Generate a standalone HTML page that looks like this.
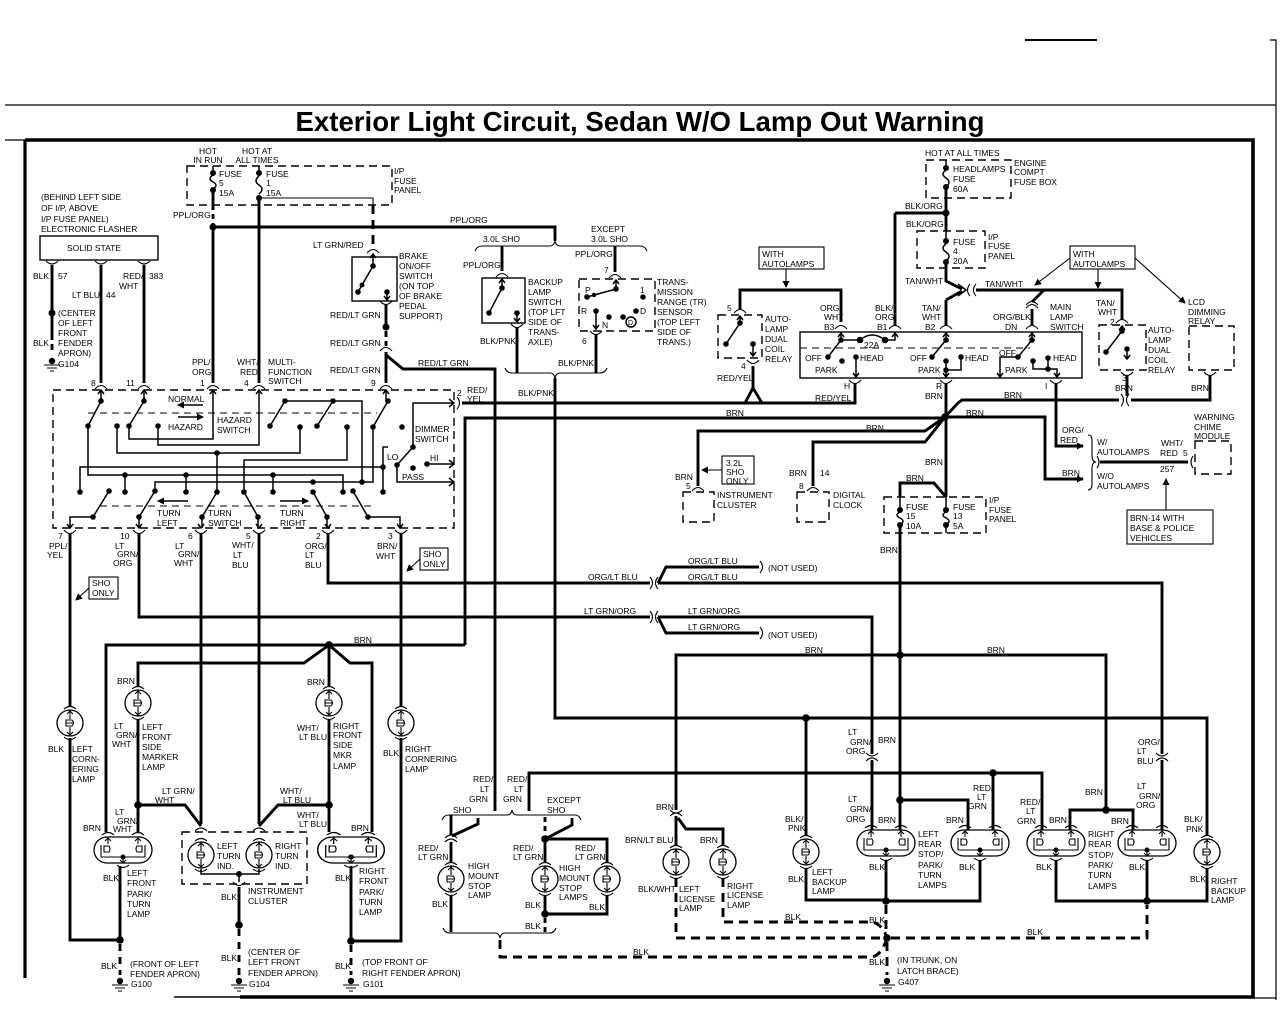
<!DOCTYPE html>
<html><head><meta charset="utf-8"><style>
html,body{margin:0;padding:0;background:#fff;}
svg{display:block;}
text{font-family:"Liberation Sans",Arial,sans-serif;font-size:8.5px;fill:#000;}
.w{stroke:#000;stroke-width:2.9;fill:none;}
.t{stroke:#000;stroke-width:1.5;fill:none;}
.h{stroke:#000;stroke-width:1.1;fill:none;}
.d{stroke:#000;stroke-width:1.4;fill:none;stroke-dasharray:8 5;}
.dw{stroke:#000;stroke-width:2.9;fill:none;stroke-dasharray:9 6;}
.b{stroke:#000;stroke-width:1.4;fill:none;}
</style></head><body>
<svg width="1280" height="1024" viewBox="0 0 1280 1024" xmlns="http://www.w3.org/2000/svg">
<defs>
<marker id="ah" markerWidth="7" markerHeight="7" refX="6" refY="3.5" orient="auto" markerUnits="userSpaceOnUse"><path d="M0,0 L7,3.5 L0,7 z" fill="#000"/></marker>
<g id="lamp">
<circle r="13" fill="#fff" stroke="#000" stroke-width="1.3"/>
<path d="M-6,-14 Q0,-19 6,-14 M-6,14 Q0,19 6,14" class="h"/>
<path d="M0,-13 V-4 M0,4 V13 M-3,-9 L0,-12 L3,-9 M-3,9 L0,12 L3,9" class="h"/>
<path d="M-4,-3 H2 Q5,0 2,3 H-4 Z M-4,0 H3" class="h"/>
</g>
<g id="ovs">
<rect x="-29" y="-13" width="58" height="26" rx="13" fill="#fff" stroke="#000" stroke-width="1.3"/>
<path d="M-21,-15 Q-15,-20 -9,-15 M9,-15 Q15,-20 21,-15 M-15,-13 V-6 M15,-13 V-6 M-18,-9 L-15,-12 L-12,-9 M12,-9 L15,-12 L18,-9" class="h"/>
<path d="M-22,-5 V7 H22 V-5 M0,7 V13 M-3,10 L0,13 L3,10 M-6,15 Q0,20 6,15" class="h"/>
<path d="M-19,-4 H-14 Q-12,-1 -14,2 H-19 Z M19,-4 H14 Q12,-1 14,2 H19 Z" class="h"/>
<circle cx="0" cy="7" r="2.5" fill="#000"/>
</g>
<g id="gnd"><circle cx="0" cy="-3" r="3.2" fill="#000"/><path d="M-8,1 H8 M-5,4 H5 M-2,7 H2" class="h"/></g>
</defs>

<!-- frame -->
<path d="M1025,40 H1097" stroke="#000" stroke-width="2"/>
<path d="M1270,40 H1276 V1000" stroke="#000" stroke-width="1.2" fill="none"/>
<path d="M5,105 H1276" stroke="#000" stroke-width="1.2"/>
<text x="640" y="131" text-anchor="middle" textLength="689" lengthAdjust="spacingAndGlyphs" style="font-size:28px;font-weight:bold">Exterior Light Circuit, Sedan W/O Lamp Out Warning</text>
<path d="M5,140 H25" stroke="#000" stroke-width="1.2"/>
<path d="M25,140 H1253 V997 H240" stroke="#000" stroke-width="3.6" fill="none"/>
<path d="M25,140 V978" stroke="#000" stroke-width="3.2"/>
<path d="M174,997 H240" stroke="#000" stroke-width="1.5"/>
<path d="M1253,998 H1276" stroke="#000" stroke-width="1.2"/>

<!-- ===== TOP LEFT FUSES ===== -->
<rect x="187" y="166" width="205" height="39" class="d"/>
<path d="M213,166 V173 M213,175 q-6,4 0,7 q6,3 0,7" class="t"/>
<path d="M259,166 V173 M259,176 q-6,5 0,9 q6,4 0,9" class="t"/>
<path d="M213,190 V205" class="w"/>
<path d="M213,205 V225" class="dw" style="stroke-dasharray:5 4"/>
<path d="M213,227 V383 M213,227 H555 V241" class="w"/>
<path d="M259,198 V383" class="w"/>
<path d="M259,198 H373 V205" class="h"/>
<path d="M373,205 V248" class="dw"/>
<g fill="#000"><circle cx="213" cy="173" r="3"/><circle cx="213" cy="190" r="3"/><circle cx="259" cy="173" r="3"/><circle cx="259" cy="198" r="3"/><circle cx="213" cy="227" r="3.5"/></g>
<text x="208" y="154" text-anchor="middle">HOT</text><text x="208" y="163" text-anchor="middle">IN RUN</text>
<text x="257" y="154" text-anchor="middle">HOT AT</text><text x="257" y="163" text-anchor="middle">ALL TIMES</text>
<text x="219" y="177">FUSE</text><text x="219" y="186">5</text><text x="219" y="196">15A</text>
<text x="266" y="177">FUSE</text><text x="266" y="186">1</text><text x="266" y="196">15A</text>
<text x="394" y="174">I/P</text><text x="394" y="184">FUSE</text><text x="394" y="193">PANEL</text>
<text x="173" y="218">PPL/ORG</text>
<text x="450" y="223">PPL/ORG</text>

<!-- flasher -->
<text x="41" y="200">(BEHIND LEFT SIDE</text><text x="41" y="211">OF I/P, ABOVE</text><text x="41" y="222">I/P FUSE PANEL)</text><text x="41" y="232">ELECTRONIC FLASHER</text>
<rect x="40" y="236" width="118" height="24" class="b"/>
<text x="94" y="251" text-anchor="middle">SOLID STATE</text>
<path d="M46,261 Q52,267 58,261 M95,261 Q101,267 107,261 M138,261 Q144,267 150,261" class="h"/>
<path d="M52,265 V340 M101,265 V383 M144,265 V383" class="w"/>
<path d="M52,344 V350" class="w"/>
<circle cx="52" cy="313" r="3.5"/>
<use href="#gnd" x="52" y="364"/>
<text x="33" y="279">BLK</text><text x="58" y="279">57</text>
<text x="123" y="279">RED/</text><text x="119" y="289">WHT</text><text x="149" y="279">383</text>
<text x="72" y="298">LT BLU</text><text x="106" y="298">44</text>
<text x="58" y="316">(CENTER</text><text x="58" y="326">OF LEFT</text><text x="58" y="336">FRONT</text>
<text x="33" y="346">BLK</text><text x="58" y="346">FENDER</text><text x="58" y="356">APRON)</text><text x="58" y="367">G104</text>

<!-- ===== MULTI-FUNCTION SWITCH ===== -->
<text x="192" y="365">PPL/</text><text x="192" y="375">ORG</text><text x="200" y="386">1</text>
<text x="237" y="365">WHT/</text><text x="240" y="375">RED</text><text x="244" y="386">4</text>
<text x="268" y="365">MULTI-</text><text x="268" y="375">FUNCTION</text><text x="268" y="384">SWITCH</text>
<text x="91" y="386">8</text><text x="126" y="386">11</text><text x="371" y="386">9</text>
<text x="330" y="373">RED/LT GRN</text>
<rect x="53" y="390" width="401" height="138" class="d"/>
<g class="h">
<path d="M95,389 Q101,382 107,389 M138,389 Q144,382 150,389 M207,389 Q213,382 219,389 M253,389 Q259,382 265,389 M380,389 Q386,382 392,389"/>
<path d="M64,530 Q70,537 76,530 M133,530 Q139,537 145,530 M195,530 Q201,537 207,530 M253,530 Q259,537 265,530 M322,530 Q328,537 334,530 M395,530 Q401,537 407,530"/>
<path d="M457,397 Q462,403 457,409"/>
</g>
<g class="t">
<path d="M101,390 V401 M144,390 V401 M386,390 V401"/>
<path d="M98,394 L101,390 L104,394 M141,394 L144,390 L147,394 M210,394 L213,390 L216,394 M256,394 L259,390 L262,394 M383,394 L386,390 L389,394"/>
<path d="M101,401 L88,426 M144,401 L129,426 M285,401 L270,426 M333,401 L317,426 M388,401 L373,427"/>
<path d="M129,426 V439 H213 V390 M158,426 V445 H259 V390"/>
<path d="M117,426 V453 H300 V427 M217,453 V492 M347,427 V460 H244 V492"/>
<path d="M285,401 H362 V482 M373,427 V482 H155 V491"/>
<path d="M88,426 V475 H343 V492 M125,475 V492 M186,475 V492 M273,475 V492"/>
<path d="M80,492 V467 H383 V492 M383,467 V447 H388"/>
<path d="M413,447 V403 H454 M413,447 L397,465 V482 H454 M427,464 H454"/>
<path d="M109,491 L93,517 H70 V528 M155,491 L139,517 V528 M217,492 L202,517 V528 M244,492 L258,517 V528 M313,492 L327,517 V528 M353,491 L368,517 H400 V528"/>
<path d="M67,524 L70,528 L73,524 M136,524 L139,528 L142,524 M198,524 L201,528 L204,524 M256,524 L259,528 L262,524 M325,524 L328,528 L331,524 M397,524 L400,528 L403,524"/>
<path d="M449,399 L454,403 L449,407 M449,460 L454,464 L449,468 M449,478 L454,482 L449,486"/>
</g>
<path d="M88,413 H377 M100,506 H373" class="h" style="stroke-dasharray:7 5"/>
<g fill="#000">
<circle cx="101" cy="401" r="2.8"/><circle cx="144" cy="401" r="2.8"/><circle cx="285" cy="401" r="2.8"/><circle cx="333" cy="401" r="2.8"/><circle cx="388" cy="401" r="2.8"/>
<circle cx="88" cy="426" r="2.8"/><circle cx="117" cy="426" r="2.8"/><circle cx="129" cy="426" r="2.8"/><circle cx="158" cy="426" r="2.8"/><circle cx="270" cy="426" r="2.8"/><circle cx="300" cy="427" r="2.8"/><circle cx="317" cy="426" r="2.8"/><circle cx="347" cy="427" r="2.8"/><circle cx="373" cy="427" r="2.8"/><circle cx="402" cy="427" r="2.8"/>
<circle cx="217" cy="453" r="2.8"/><circle cx="125" cy="475" r="2.8"/><circle cx="186" cy="475" r="2.8"/><circle cx="273" cy="475" r="2.8"/><circle cx="383" cy="467" r="2.8"/><circle cx="362" cy="482" r="2.8"/><circle cx="313" cy="482" r="2.8"/>
<circle cx="80" cy="492" r="2.8"/><circle cx="125" cy="492" r="2.8"/><circle cx="186" cy="492" r="2.8"/><circle cx="273" cy="492" r="2.8"/><circle cx="343" cy="492" r="2.8"/><circle cx="383" cy="492" r="2.8"/>
<circle cx="109" cy="491" r="2.8"/><circle cx="155" cy="491" r="2.8"/><circle cx="217" cy="492" r="2.8"/><circle cx="244" cy="492" r="2.8"/><circle cx="313" cy="492" r="2.8"/><circle cx="353" cy="491" r="2.8"/>
<circle cx="93" cy="517" r="2.8"/><circle cx="139" cy="517" r="2.8"/><circle cx="202" cy="517" r="2.8"/><circle cx="258" cy="517" r="2.8"/><circle cx="327" cy="517" r="2.8"/><circle cx="368" cy="517" r="2.8"/>
<circle cx="413" cy="447" r="2.8"/><circle cx="397" cy="465" r="2.8"/><circle cx="427" cy="464" r="2.8"/><circle cx="413" cy="468" r="2.8"/>
</g>
<path d="M203,405 H178" class="t" marker-end="url(#ah)"/>
<path d="M178,417 H203" class="t" marker-end="url(#ah)"/>
<path d="M188,501 H158" class="t" marker-end="url(#ah)"/>
<path d="M280,501 H308" class="t" marker-end="url(#ah)"/>
<text x="168" y="402">NORMAL</text><text x="168" y="430">HAZARD</text>
<text x="217" y="423">HAZARD</text><text x="217" y="433">SWITCH</text>
<text x="415" y="432">DIMMER</text><text x="415" y="442">SWITCH</text>
<text x="387" y="460">LO</text><text x="430" y="461">HI</text><text x="402" y="480">PASS</text>
<text x="157" y="516">TURN</text><text x="157" y="526">LEFT</text>
<text x="208" y="516">TURN</text><text x="208" y="526">SWITCH</text>
<text x="280" y="516">TURN</text><text x="280" y="526">RIGHT</text>
<text x="457" y="396">2</text><text x="467" y="393">RED/</text><text x="467" y="402">YEL</text>
<text x="58" y="539">7</text><text x="49" y="549">PPL/</text><text x="47" y="558">YEL</text>
<text x="120" y="539">10</text><text x="115" y="549">LT</text><text x="117" y="557">GRN/</text><text x="113" y="566">ORG</text>
<text x="188" y="539">6</text><text x="175" y="549">LT</text><text x="178" y="557">GRN/</text><text x="174" y="566">WHT</text>
<text x="246" y="539">5</text><text x="232" y="548">WHT/</text><text x="233" y="558">LT</text><text x="232" y="568">BLU</text>
<text x="316" y="539">2</text><text x="305" y="549">ORG/</text><text x="305" y="558">LT</text><text x="305" y="568">BLU</text>
<text x="388" y="539">3</text><text x="377" y="549">BRN/</text><text x="376" y="559">WHT</text>
<rect x="420" y="548" width="28" height="22" class="h"/><text x="423" y="557">SHO</text><text x="423" y="567">ONLY</text>
<path d="M420,559 L407,571" class="h" marker-end="url(#ah)"/>
<rect x="89" y="577" width="29" height="22" class="h"/><text x="92" y="586">SHO</text><text x="92" y="596">ONLY</text>
<path d="M89,588 L76,600" class="h" marker-end="url(#ah)"/>

<!-- brake switch -->
<text x="313" y="248">LT GRN/RED</text>
<path d="M367,253 Q373,246 379,253" class="h"/>
<rect x="352" y="257" width="45" height="44" class="b"/>
<path d="M373,254 V266 L358,292 M370,258 L373,254 L376,258 M387,292 V300 M384,296 L387,300 L390,296" class="t"/>
<g fill="#000"><circle cx="373" cy="266" r="2.8"/><circle cx="358" cy="292" r="2.8"/><circle cx="362" cy="285" r="2.5"/><circle cx="387" cy="292" r="2.8"/><circle cx="386" cy="327" r="3.5"/></g>
<path d="M380,301 Q386,308 392,301 M380,351 Q386,344 392,351" class="h"/>
<path d="M386,305 V327" class="w"/>
<path d="M386,331 V346" class="dw" style="stroke-dasharray:6 4"/>
<path d="M386,352 V383 M386,355 L403,369 H495 V811" class="w"/>
<text x="399" y="259">BRAKE</text><text x="399" y="269">ON/OFF</text><text x="399" y="279">SWITCH</text><text x="399" y="289">(ON TOP</text><text x="399" y="299">OF BRAKE</text><text x="399" y="309">PEDAL</text><text x="399" y="319">SUPPORT)</text>
<text x="330" y="318">RED/LT GRN</text><text x="330" y="346">RED/LT GRN</text>
<text x="418" y="366">RED/LT GRN</text>

<!-- RED/YEL and BRN main horizontals -->
<path d="M462,403 H855 V384" class="w"/>
<path d="M753,366 V388 M745,403 L753,388 L762,403" class="w"/>
<path d="M465,645 V418 H945" class="w"/>

<!-- backup lamp switch / TR -->
<path d="M475,251 Q477,246 482,246 H550 Q554,246 555,241 Q556,246 560,246 H640 Q645,246 647,251" class="h"/>
<path d="M502,246 V271 M615,246 V272" class="w"/>
<path d="M496,277 Q502,270 508,277 M609,278 Q615,271 621,278" class="h"/>
<rect x="482" y="278" width="43" height="45" class="b"/>
<path d="M502,279 V288 L489,313 M499,283 L502,279 L505,283 M517,313 V322 M514,318 L517,322 L520,318" class="t"/>
<g fill="#000"><circle cx="502" cy="288" r="2.8"/><circle cx="489" cy="313" r="2.8"/><circle cx="517" cy="313" r="2.8"/></g>
<path d="M511,324 Q517,331 523,324" class="h"/>
<path d="M517,328 V373" class="w"/>
<rect x="579" y="279" width="76" height="52" class="d"/>
<path d="M616,280 V289 L587,297 M613,284 L616,280 L619,284 M596,311 V329 M593,325 L596,329 L599,325" class="t"/>
<g fill="#000"><circle cx="616" cy="289" r="2.8"/><circle cx="587" cy="297" r="2.8"/><circle cx="594" cy="295" r="2.2"/><circle cx="643" cy="297" r="2.8"/><circle cx="596" cy="311" r="2.8"/><circle cx="609" cy="317" r="2.8"/><circle cx="623" cy="317" r="2.8"/><circle cx="636" cy="311" r="2.8"/></g>
<circle cx="631" cy="322" r="5" class="t"/><text x="628" y="325" style="font-size:7px">D</text>
<text x="585" y="293">P</text><text x="640" y="293">1</text><text x="581" y="314">R</text><text x="602" y="328">N</text><text x="640" y="314">D</text>
<path d="M590,331 Q596,338 602,331" class="h"/>
<path d="M596,334 V373" class="w"/>
<path d="M505,368 Q507,373 512,373 H550 Q554,373 555,378 Q556,373 560,373 H600 Q605,373 607,368" class="h"/>
<path d="M555,378 V718 H1207 V836" class="w"/>
<text x="483" y="242">3.0L SHO</text><text x="591" y="232">EXCEPT</text><text x="591" y="242">3.0L SHO</text>
<text x="463" y="268">PPL/ORG</text><text x="575" y="257">PPL/ORG</text><text x="604" y="273">7</text>
<text x="528" y="285">BACKUP</text><text x="528" y="295">LAMP</text><text x="528" y="305">SWITCH</text><text x="528" y="315">(TOP LFT</text><text x="528" y="325">SIDE OF</text><text x="528" y="335">TRANS-</text><text x="528" y="345">AXLE)</text>
<text x="480" y="344">BLK/PNK</text><text x="582" y="344">6</text><text x="558" y="366">BLK/PNK</text><text x="518" y="396">BLK/PNK</text>
<text x="657" y="285">TRANS-</text><text x="657" y="295">MISSION</text><text x="657" y="305">RANGE (TR)</text><text x="657" y="315">SENSOR</text><text x="657" y="325">(TOP LEFT</text><text x="657" y="335">SIDE OF</text><text x="657" y="345">TRANS.)</text>

<!-- left autolamp relay -->
<rect x="759" y="247" width="65" height="22" class="h"/>
<text x="762" y="257">WITH</text><text x="762" y="267">AUTOLAMPS</text>
<path d="M786,269 V287" class="h" marker-end="url(#ah)"/>
<path d="M740,309 V290 H841 V322" class="w"/>
<path d="M734,313 Q740,306 746,313" class="h"/>
<rect x="718" y="315" width="44" height="43" class="d"/>
<path d="M740,316 V323 L726,344 M737,320 L740,316 L743,320 M753,344 V356 M750,352 L753,356 L756,352" class="t"/>
<g fill="#000"><circle cx="740" cy="323" r="2.8"/><circle cx="726" cy="344" r="2.8"/><circle cx="753" cy="344" r="2.8"/></g>
<path d="M747,360 Q753,367 759,360" class="h"/>
<text x="727" y="311">5</text>
<text x="765" y="322">AUTO-</text><text x="765" y="332">LAMP</text><text x="765" y="342">DUAL</text><text x="765" y="352">COIL</text><text x="765" y="362">RELAY</text>
<text x="741" y="369">4</text><text x="717" y="381">RED/YEL</text><text x="815" y="401">RED/YEL</text>

<!-- main lamp switch -->
<rect x="800" y="332" width="282" height="46" class="b"/>
<g class="h"><path d="M835,329 Q841,322 847,329 M889,329 Q895,322 901,329 M940,329 Q946,322 952,329 M1026,329 Q1032,322 1038,329 M1026,305 Q1032,298 1038,305 M1026,308 Q1032,301 1038,308"/>
<path d="M849,380 Q855,387 861,380 M940,380 Q946,387 952,380 M1050,380 Q1056,387 1062,380"/></g>
<path d="M895,213 V326 M946,300 V326 M1032,309 V326" class="w"/>
<g class="t">
<path d="M841,333 V340 H860 M860,340 Q872,330 885,340 H895 V333 M838,337 L841,333 L844,337 M892,337 L895,333 L898,337"/>
<path d="M841,340 L828,357 M856,357 V377 M853,373 L856,377 L859,373"/>
<path d="M946,333 V340 L932,357 M943,337 L946,333 L949,337 M961,357 V370 H946 M946,361 V377 M943,373 L946,377 L949,373"/>
<path d="M1032,333 V340 L1018,357 H1000 V377 M1029,337 L1032,333 L1035,337 M997,373 L1000,377 L1003,373"/>
<path d="M1033,361 V369 H1057 V377 M1048,358 V369 M1054,373 L1057,377 L1060,373"/>
</g>
<path d="M800,348 H1030" class="h" style="stroke-dasharray:7 5"/>
<g fill="#000"><circle cx="841" cy="340" r="2.8"/><circle cx="860" cy="340" r="3.3"/><circle cx="885" cy="340" r="3.3"/><circle cx="828" cy="357" r="2.8"/><circle cx="842" cy="361" r="2.8"/><circle cx="856" cy="357" r="2.8"/>
<circle cx="946" cy="340" r="2.8"/><circle cx="932" cy="357" r="2.8"/><circle cx="946" cy="361" r="2.8"/><circle cx="961" cy="357" r="2.8"/><circle cx="946" cy="370" r="2.8"/>
<circle cx="1032" cy="340" r="2.8"/><circle cx="1018" cy="357" r="2.8"/><circle cx="1033" cy="361" r="2.8"/><circle cx="1048" cy="358" r="2.8"/><circle cx="1048" cy="369" r="2.8"/></g>
<text x="864" y="348">22A</text>
<text x="805" y="361">OFF</text><text x="815" y="373">PARK</text><text x="860" y="361">HEAD</text>
<text x="910" y="361">OFF</text><text x="918" y="373">PARK</text><text x="965" y="361">HEAD</text>
<text x="999" y="356">OFF</text><text x="1005" y="373">PARK</text><text x="1053" y="361">HEAD</text>
<text x="820" y="311">ORG/</text><text x="824" y="320">WHT</text><text x="824" y="330">B3</text>
<text x="875" y="311">BLK/</text><text x="875" y="320">ORG</text><text x="877" y="330">B1</text>
<text x="922" y="311">TAN/</text><text x="922" y="320">WHT</text><text x="925" y="330">B2</text>
<text x="993" y="320">ORG/BLK</text><text x="1005" y="330">DN</text>
<text x="1050" y="310">MAIN</text><text x="1050" y="320">LAMP</text><text x="1050" y="330">SWITCH</text>
<text x="844" y="389">H</text><text x="936" y="389">R</text><text x="1045" y="389">I</text><text x="925" y="399">BRN</text>

<!-- engine compt fuse -->
<text x="925" y="156">HOT AT ALL TIMES</text>
<rect x="926" y="160" width="85" height="38" class="d"/>
<path d="M946,160 V168 M946,170 q-6,4 0,8 q6,4 0,9" class="t"/>
<path d="M946,187 V213 H895 M946,213 V231" class="w"/>
<rect x="917" y="231" width="68" height="37" class="d"/>
<path d="M946,231 V241 M946,244 q-6,4 0,8 q6,4 0,9" class="t"/>
<path d="M946,262 V281 L962,289 M962,291 L946,300" class="w"/>
<path d="M958,284 L966,290 L958,296" class="t"/>
<path d="M970,284 Q965,290 970,296 M976,284 Q971,290 976,296" class="h"/>
<path d="M976,290 H1122 V320 M1032,302 L1044,290" class="w"/>
<g fill="#000"><circle cx="946" cy="168" r="3"/><circle cx="946" cy="187" r="3"/><circle cx="946" cy="213" r="3.5"/><circle cx="946" cy="241" r="3"/><circle cx="946" cy="262" r="3"/></g>
<text x="953" y="172">HEADLAMPS</text><text x="953" y="182">FUSE</text><text x="953" y="192">60A</text>
<text x="1014" y="166">ENGINE</text><text x="1014" y="175">COMPT</text><text x="1014" y="185">FUSE BOX</text>
<text x="905" y="209">BLK/ORG</text><text x="906" y="227">BLK/ORG</text>
<text x="953" y="245">FUSE</text><text x="953" y="254">4</text><text x="953" y="264">20A</text>
<text x="988" y="240">I/P</text><text x="988" y="249">FUSE</text><text x="988" y="259">PANEL</text>
<text x="905" y="284">TAN/WHT</text><text x="985" y="287">TAN/WHT</text>

<!-- right autolamps -->
<rect x="1070" y="246" width="65" height="23" class="h"/>
<text x="1073" y="257">WITH</text><text x="1073" y="267">AUTOLAMPS</text>
<path d="M1070,258 L1035,285" class="h" marker-end="url(#ah)"/>
<path d="M1098,269 V288" class="h" marker-end="url(#ah)"/>
<path d="M1135,258 L1185,303" class="h" marker-end="url(#ah)"/>
<path d="M1116,323 Q1122,316 1128,323" class="h"/>
<rect x="1099" y="325" width="47" height="45" class="d"/>
<path d="M1122,326 V331 L1106,352 M1119,330 L1122,326 L1125,330 M1127,349 V359 M1124,355 L1127,359 L1130,355" class="t"/>
<g fill="#000"><circle cx="1122" cy="331" r="2.8"/><circle cx="1106" cy="352" r="2.8"/><circle cx="1127" cy="349" r="2.8"/></g>
<path d="M1121,372 Q1127,379 1133,372" class="h"/>
<rect x="1189" y="326" width="45" height="44" class="d"/>
<path d="M1204,372 Q1210,379 1216,372" class="h"/>
<path d="M1127,376 V396 M1210,376 V400 H1131" class="w"/>
<path d="M945,417 L958,403 L962,400 H1119" class="w"/>
<path d="M1121,394 Q1126,400 1121,406 M1129,394 Q1124,400 1129,406" class="h"/>
<text x="1096" y="306">TAN/</text><text x="1098" y="315">WHT</text><text x="1110" y="325">2</text>
<text x="1188" y="305">LCD</text><text x="1188" y="315">DIMMING</text><text x="1188" y="324">RELAY</text>
<text x="1148" y="333">AUTO-</text><text x="1148" y="343">LAMP</text><text x="1148" y="353">DUAL</text><text x="1148" y="363">COIL</text><text x="1148" y="373">RELAY</text>
<text x="1122" y="381">3</text><text x="1115" y="391">BRN</text><text x="1191" y="391">BRN</text><text x="1004" y="398">BRN</text>

<!-- BRN hub -->
<path d="M946,384 V497" class="w"/>
<circle cx="945" cy="417" r="3.8"/>
<path d="M945,417 L925,431 H698 V486 M945,417 L925,442 H813 V486" class="w"/>
<path d="M945,417 H1045 V479 H1083" class="w" marker-end="url(#ah)"/>
<path d="M1056,384 V446 H1083" class="w" marker-end="url(#ah)"/>
<path d="M1088,435 Q1092,435 1092,440 V455 Q1092,462 1096,462 Q1092,462 1092,469 V484 Q1092,490 1088,490" class="h"/>
<path d="M1097,456 Q1101,462 1097,468" class="h"/>
<path d="M1100,462 H1188" class="w"/>
<path d="M1193,456 Q1189,462 1193,468" class="h"/>
<rect x="1195" y="441" width="36" height="33" class="d"/>
<rect x="1127" y="510" width="86" height="34" class="h"/>
<path d="M1166,510 V479" class="h" marker-end="url(#ah)"/>
<text x="726" y="416">BRN</text><text x="866" y="431">BRN</text><text x="966" y="416">BRN</text>
<text x="1062" y="433">ORG/</text><text x="1060" y="443">RED</text>
<text x="1097" y="445">W/</text><text x="1097" y="455">AUTOLAMPS</text>
<text x="1062" y="476">BRN</text><text x="1097" y="479">W/O</text><text x="1097" y="489">AUTOLAMPS</text>
<text x="1161" y="446">WHT/</text><text x="1160" y="456">RED</text><text x="1183" y="456">5</text><text x="1160" y="472">257</text>
<text x="1194" y="420">WARNING</text><text x="1194" y="430">CHIME</text><text x="1194" y="439">MODULE</text>
<text x="1130" y="521">BRN-14 WITH</text><text x="1130" y="531">BASE &amp; POLICE</text><text x="1130" y="541">VEHICLES</text>

<!-- instrument cluster / clock -->
<path d="M692,491 Q698,484 704,491 M807,491 Q813,484 819,491" class="h"/>
<rect x="683" y="492" width="31" height="30" class="d"/>
<rect x="797" y="492" width="32" height="30" class="d"/>
<rect x="722" y="456" width="32" height="28" class="h"/>
<path d="M722,470 H702" class="h" marker-end="url(#ah)"/>
<text x="675" y="480">BRN</text><text x="686" y="489">5</text><text x="717" y="498">INSTRUMENT</text><text x="717" y="508">CLUSTER</text>
<text x="726" y="466">3.2L</text><text x="726" y="475">SHO</text><text x="726" y="484">ONLY</text>
<text x="789" y="476">BRN</text><text x="820" y="476">14</text><text x="799" y="489">8</text><text x="833" y="498">DIGITAL</text><text x="833" y="508">CLOCK</text>

<!-- fuse 15/13 -->
<path d="M900,497 V483 H934 L946,497" class="w"/>
<rect x="884" y="497" width="102" height="36" class="d"/>
<path d="M900,497 V510 M900,512 q-6,3 0,6 q6,3 0,7 M946,497 V510 M946,512 q-6,3 0,6 q6,3 0,7" class="t"/>
<g fill="#000"><circle cx="900" cy="510" r="3"/><circle cx="900" cy="525" r="3"/><circle cx="946" cy="510" r="3"/><circle cx="946" cy="525" r="3"/></g>
<path d="M946,525 V533" class="t"/>
<path d="M900,525 V800" class="w"/>
<text x="925" y="465">BRN</text><text x="906" y="481">BRN</text>
<text x="906" y="510">FUSE</text><text x="906" y="519">15</text><text x="906" y="529">10A</text>
<text x="953" y="510">FUSE</text><text x="953" y="519">13</text><text x="953" y="529">5A</text>
<text x="989" y="503">I/P</text><text x="989" y="513">FUSE</text><text x="989" y="522">PANEL</text>
<text x="880" y="553">BRN</text>

<!-- ORG/LT BLU and LT GRN/ORG -->
<path d="M328,533 V583 H650 M139,533 V617 H650" class="w"/>
<path d="M650,577 Q655,583 650,589 M650,611 Q655,617 650,623" class="h"/>
<path d="M658,577 Q653,583 658,589 M658,611 Q653,617 658,623" class="h"/>
<path d="M658,583 H1162 V754 M658,583 L666,567 H759 M658,617 H872 V754 M658,617 L666,633 H759" class="w"/>
<path d="M760,561 Q765,567 760,573 M760,627 Q765,633 760,639" class="h"/>
<text x="588" y="580">ORG/LT BLU</text><text x="688" y="564">ORG/LT BLU</text><text x="768" y="571">(NOT USED)</text><text x="688" y="580">ORG/LT BLU</text>
<text x="584" y="614">LT GRN/ORG</text><text x="688" y="614">LT GRN/ORG</text><text x="688" y="630">LT GRN/ORG</text><text x="768" y="638">(NOT USED)</text>

<!-- BRN y655 distribution -->
<path d="M676,810 V655 H1106 V810" class="w"/>
<circle cx="900" cy="655" r="3.8"/>
<text x="805" y="653">BRN</text><text x="987" y="653">BRN</text>

<!-- ===== FRONT LAMPS ===== -->
<path d="M70,533 V706 M70,738 V940 H120 M401,533 V706 M401,738 V941 H351 M201,533 V824 M259,533 V824" class="w"/>
<use href="#lamp" x="70" y="723"/><use href="#lamp" x="401" y="723"/>
<circle cx="329" cy="645" r="3.8"/>
<path d="M465,645 H106 V832 M329,645 L304,663 H138 V686 M329,645 V686 M329,645 L350,663 H372 V832" class="w"/>
<use href="#lamp" x="138" y="703"/><use href="#lamp" x="329" y="703"/>
<path d="M138,720 V832 M138,805 H185 L201,826 M329,720 V832 M329,805 H278 L259,826" class="w"/>
<circle cx="138" cy="805" r="3.8"/><circle cx="329" cy="805" r="3.8"/>
<use href="#ovs" x="123" y="850"/>
<g transform="translate(351,850) scale(1.15,1)"><use href="#ovs"/></g>
<rect x="182" y="832" width="125" height="52" class="d"/>
<use href="#lamp" x="201" y="855"/><use href="#lamp" x="259" y="855"/>
<path d="M195,831 Q201,825 207,831 M253,831 Q259,825 265,831" class="h"/>
<path d="M201,869 V874 H259 V869 M239,874 V882" class="t"/>
<circle cx="239" cy="874" r="3"/>
<path d="M233,882 Q239,889 245,882" class="h"/>
<path d="M239,887 V925 M120,866 V940 M351,866 V941" class="w"/>
<path d="M120,944 V975 M239,929 V975 M351,945 V975" class="dw" style="stroke-dasharray:7 6"/>
<g fill="#000"><circle cx="120" cy="940" r="3.8"/><circle cx="239" cy="925" r="3.8"/><circle cx="351" cy="941" r="3.8"/></g>
<use href="#gnd" x="120" y="984"/><use href="#gnd" x="239" y="984"/><use href="#gnd" x="351" y="984"/>
<text x="354" y="643">BRN</text>
<text x="48" y="752">BLK</text><text x="72" y="752">LEFT</text><text x="72" y="762">CORN-</text><text x="72" y="772">ERING</text><text x="72" y="782">LAMP</text>
<text x="117" y="684">BRN</text><text x="114" y="729">LT</text><text x="116" y="738">GRN/</text><text x="112" y="747">WHT</text>
<text x="142" y="730">LEFT</text><text x="142" y="740">FRONT</text><text x="142" y="750">SIDE</text><text x="142" y="760">MARKER</text><text x="142" y="770">LAMP</text>
<text x="307" y="685">BRN</text><text x="297" y="731">WHT/</text><text x="299" y="740">LT BLU</text>
<text x="333" y="729">RIGHT</text><text x="333" y="738">FRONT</text><text x="333" y="748">SIDE</text><text x="333" y="758">MKR</text><text x="333" y="769">LAMP</text>
<text x="383" y="756">BLK</text><text x="405" y="752">RIGHT</text><text x="405" y="762">CORNERING</text><text x="405" y="772">LAMP</text>
<text x="162" y="794">LT GRN/</text><text x="155" y="803">WHT</text><text x="280" y="794">WHT/</text><text x="283" y="803">LT BLU</text>
<text x="115" y="815">LT</text><text x="117" y="824">GRN/</text><text x="113" y="832">WHT</text><text x="83" y="831">BRN</text>
<text x="297" y="818">WHT/</text><text x="299" y="827">LT BLU</text><text x="351" y="831">BRN</text>
<text x="217" y="849">LEFT</text><text x="217" y="859">TURN</text><text x="217" y="869">IND.</text>
<text x="275" y="849">RIGHT</text><text x="275" y="859">TURN</text><text x="275" y="869">IND.</text>
<text x="103" y="881">BLK</text><text x="127" y="876">LEFT</text><text x="127" y="886">FRONT</text><text x="127" y="897">PARK/</text><text x="127" y="907">TURN</text><text x="127" y="917">LAMP</text>
<text x="221" y="900">BLK</text><text x="248" y="894">INSTRUMENT</text><text x="248" y="904">CLUSTER</text>
<text x="335" y="881">BLK</text><text x="359" y="874">RIGHT</text><text x="359" y="884">FRONT</text><text x="359" y="895">PARK/</text><text x="359" y="905">TURN</text><text x="359" y="915">LAMP</text>
<text x="101" y="969">BLK</text><text x="130" y="967">(FRONT OF LEFT</text><text x="130" y="977">FENDER APRON)</text><text x="131" y="987">G100</text>
<text x="221" y="961">BLK</text><text x="248" y="955">(CENTER OF</text><text x="248" y="965">LEFT FRONT</text><text x="248" y="976">FENDER APRON)</text><text x="249" y="987">G104</text>
<text x="335" y="969">BLK</text><text x="362" y="965">(TOP FRONT OF</text><text x="362" y="976">RIGHT FENDER APRON)</text><text x="363" y="987">G101</text>

<!-- ===== HIGH MOUNT ===== -->
<path d="M529,811 V773 H1042 V830" class="w"/>
<path d="M442,820 Q444,815 449,815 H507 Q511,815 512,810 Q513,815 517,815 H575 Q579,815 581,820" class="h"/>
<path d="M451,815 V835 M451,842 V863 M451,895 V932" class="w"/>
<path d="M452,836 L478,824 V818" class="w"/>
<path d="M445,838 Q451,832 457,838 M445,842 Q451,836 457,842" class="h"/>
<path d="M545,817 V835" class="dw" style="stroke-dasharray:5 4"/>
<path d="M545,839 L572,825 V818 M545,839 H607 V863 M545,839 V863 M545,895 V914 M607,895 V914 H545" class="w"/>
<path d="M545,918 V932" class="dw" style="stroke-dasharray:5 4"/>
<g fill="#000"><circle cx="545" cy="839" r="3.8"/><circle cx="545" cy="914" r="3.8"/></g>
<use href="#lamp" x="451" y="879"/><use href="#lamp" x="545" y="879"/><use href="#lamp" x="607" y="879"/>
<path d="M443,928 Q445,933 450,933 H495 Q499,933 500,938 Q501,933 505,933 H550 Q554,933 556,928" class="h"/>
<path d="M500,940 V957 H870 Q880,957 886,941" class="dw"/>
<text x="473" y="782">RED/</text><text x="480" y="792">LT</text><text x="469" y="802">GRN</text>
<text x="507" y="782">RED/</text><text x="514" y="792">LT</text><text x="503" y="802">GRN</text>
<text x="453" y="813">SHO</text><text x="547" y="803">EXCEPT</text><text x="547" y="813">SHO</text>
<text x="418" y="851">RED/</text><text x="418" y="860">LT GRN</text>
<text x="468" y="869">HIGH</text><text x="468" y="879">MOUNT</text><text x="468" y="889">STOP</text><text x="468" y="898">LAMP</text><text x="432" y="907">BLK</text>
<text x="513" y="851">RED/</text><text x="513" y="860">LT GRN</text><text x="575" y="851">RED/</text><text x="575" y="860">LT GRN</text>
<text x="559" y="871">HIGH</text><text x="559" y="881">MOUNT</text><text x="559" y="891">STOP</text><text x="559" y="900">LAMPS</text>
<text x="525" y="908">BLK</text><text x="589" y="910">BLK</text><text x="525" y="929">BLK</text>
<text x="633" y="955">BLK</text>

<!-- license lamps -->
<path d="M670,810 Q676,816 682,810 M670,816 Q676,810 682,816" class="h"/>
<path d="M676,816 V846 M678,818 L686,829 H723 V846" class="w"/>
<use href="#lamp" x="676" y="862"/><use href="#lamp" x="723" y="862"/>
<path d="M676,878 V938 H884" class="dw"/>
<path d="M723,878 V922 H870 Q880,922 886,935" class="dw"/>
<text x="656" y="810">BRN</text><text x="625" y="843">BRN/LT BLU</text><text x="700" y="843">BRN</text>
<text x="638" y="892">BLK/WHT</text><text x="679" y="892">LEFT</text><text x="679" y="902">LICENSE</text><text x="679" y="911">LAMP</text>
<text x="727" y="889">RIGHT</text><text x="727" y="898">LICENSE</text><text x="727" y="908">LAMP</text>
<text x="785" y="920">BLK</text>

<!-- backup lamps -->
<path d="M806,718 V836 M806,868 V900 H886" class="w"/>
<circle cx="806" cy="718" r="3.8"/>
<use href="#lamp" x="806" y="852"/>
<text x="785" y="822">BLK/</text><text x="788" y="831">PNK</text><text x="788" y="882">BLK</text>
<text x="812" y="875">LEFT</text><text x="812" y="885">BACKUP</text><text x="812" y="894">LAMP</text>
<use href="#lamp" x="1207" y="852"/>
<path d="M1207,868 V901 H1147" class="w"/>
<text x="1184" y="822">BLK/</text><text x="1186" y="832">PNK</text><text x="1190" y="882">BLK</text>
<text x="1211" y="884">RIGHT</text><text x="1211" y="894">BACKUP</text><text x="1211" y="903">LAMP</text>

<!-- ===== REAR LAMPS ===== -->
<path d="M900,800 V830 M900,800 H968 V830 M993,773 V830 M1070,830 V810 H1133 V830" class="w"/>
<path d="M872,760 V830 M1162,760 V830" class="w"/>
<path d="M866,753 Q872,759 878,753 M866,761 Q872,755 878,761 M1156,753 Q1162,759 1168,753 M1156,761 Q1162,755 1168,761" class="h"/>
<g fill="#000"><circle cx="900" cy="800" r="3.8"/><circle cx="993" cy="773" r="3.8"/><circle cx="1106" cy="810" r="3.8"/></g>
<use href="#ovs" x="886" y="843"/><use href="#ovs" x="980" y="843"/><use href="#ovs" x="1056" y="843"/><use href="#ovs" x="1147" y="843"/>
<path d="M886,860 V901 M980,860 V901 H886 M1056,860 V901 H1147 M1147,860 V901" class="w"/>
<g fill="#000"><circle cx="886" cy="901" r="3.8"/><circle cx="1147" cy="901" r="3.8"/><circle cx="887" cy="938" r="3.8"/></g>
<path d="M886,905 V934 M887,942 V975 M891,938 H1147 V905" class="dw"/>
<use href="#gnd" x="887" y="984"/>
<text x="848" y="735">LT</text><text x="850" y="745">GRN/</text><text x="846" y="754">ORG</text><text x="878" y="743">BRN</text>
<text x="1138" y="745">ORG/</text><text x="1137" y="754">LT</text><text x="1137" y="764">BLU</text>
<text x="848" y="802">LT</text><text x="850" y="812">GRN/</text><text x="846" y="822">ORG</text><text x="878" y="823">BRN</text>
<text x="973" y="791">RED/</text><text x="977" y="800">LT</text><text x="968" y="809">GRN</text><text x="946" y="823">BRN</text>
<text x="1020" y="805">RED/</text><text x="1026" y="814">LT</text><text x="1017" y="824">GRN</text><text x="1049" y="823">BRN</text>
<text x="1085" y="795">BRN</text><text x="1111" y="824">BRN</text>
<text x="1137" y="789">LT</text><text x="1139" y="799">GRN/</text><text x="1136" y="808">ORG</text>
<text x="918" y="837">LEFT</text><text x="918" y="847">REAR</text><text x="918" y="857">STOP/</text><text x="918" y="868">PARK/</text><text x="918" y="878">TURN</text><text x="918" y="888">LAMPS</text>
<text x="1088" y="837">RIGHT</text><text x="1088" y="847">REAR</text><text x="1088" y="858">STOP/</text><text x="1088" y="868">PARK/</text><text x="1088" y="878">TURN</text><text x="1088" y="889">LAMPS</text>
<text x="869" y="870">BLK</text><text x="959" y="870">BLK</text><text x="1036" y="870">BLK</text><text x="1129" y="870">BLK</text>
<text x="869" y="923">BLK</text><text x="1027" y="935">BLK</text>
<text x="869" y="965">BLK</text><text x="897" y="963">(IN TRUNK, ON</text><text x="897" y="974">LATCH BRACE)</text><text x="898" y="985">G407</text>
</svg>
</body></html>
